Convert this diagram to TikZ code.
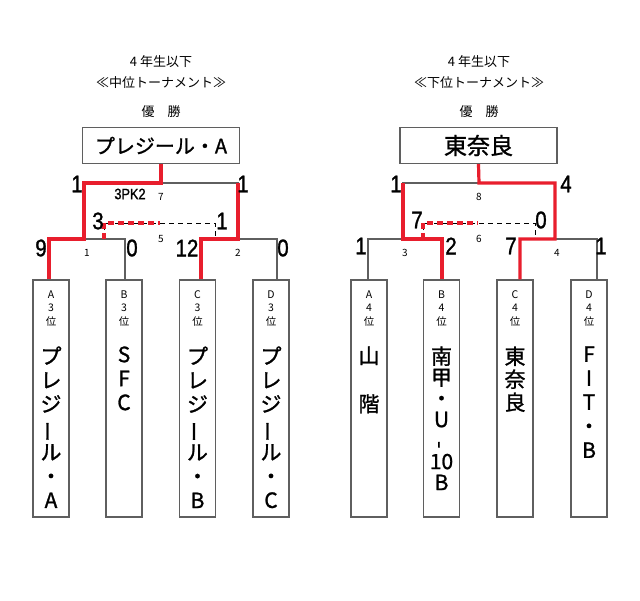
\documentclass[tikz,border=0pt]{standalone}
\usepackage{fontspec}
\setmainfont{Noto Sans CJK JP}
\newfontfamily\heavyjp{Noto Sans CJK JP}[FakeBold=1.2]
\newfontfamily\scorefont{Liberation Sans}[FakeStretch=0.85,FakeBold=1.2]
\usepackage{graphicx}
\definecolor{winred}{RGB}{232,30,45}
\definecolor{linegray}{RGB}{95,95,95}
\newcommand{\tatebar}{\rotatebox[origin=c]{90}{ー}}
\newcommand{\tatedash}{\rotatebox[origin=c]{90}{-}}

\begin{document}
\begin{tikzpicture}[x=1pt, y=-1pt,
    bline/.style={draw=linegray, line width=1.1pt},
    wline/.style={draw=winred, line width=3.2pt},
    bdash/.style={draw=black, line width=0.8pt, dash pattern=on 5pt off 4pt},
    wdash/.style={draw=winred, line width=3.6pt, dash pattern=on 6pt off 4pt},
    champbox/.style={draw=linegray, line width=1.1pt, minimum width=157pt, minimum height=36pt, inner sep=0pt, font=\heavyjp\fontsize{20}{20}\selectfont},
    teambox/.style={draw=linegray, line width=1.3pt, minimum width=36pt, minimum height=237pt, inner sep=0pt},
    ranktxt/.style={align=center, inner sep=0pt, font=\fontsize{10.5}{13.5}\selectfont},
    teamtxt/.style={align=center, inner sep=0pt, font=\heavyjp\fontsize{21}{24}\selectfont},
    headtxt/.style={inner sep=0pt, font=\fontsize{13}{13}\selectfont},
    pts/.style={inner sep=0pt, font=\scorefont\fontsize{24}{24}\selectfont},
    gamenum/.style={inner sep=0pt, font=\fontsize{10}{10}\selectfont}
  ]
  \path[fill=white] (0,0) rectangle (640,600);
  \useasboundingbox (0,0) rectangle (640,600);

  % middle tournament
  \node[headtxt] (hL1) at (161,62) {4 年生以下};
  \node[headtxt] (hL2) at (161,83) {≪中位トーナメント≫};
  \node[headtxt] (hL3) at (161,112) {優　勝};
  \node[champbox] (winL) at (161,145.5) {プレジール・A};

  \node[teambox] (LA) at (51,398.5) {};
  \node[teambox] (LB) at (124,398.5) {};
  \node[teambox] (LC) at (197.5,398.5) {};
  \node[teambox] (LD) at (271,398.5) {};
  \node[ranktxt, anchor=north] (LAr) at ([yshift=-11pt]LA.north) {A\\3\\位};
  \node[ranktxt, anchor=north] (LBr) at ([yshift=-11pt]LB.north) {B\\3\\位};
  \node[ranktxt, anchor=north] (LCr) at ([yshift=-11pt]LC.north) {C\\3\\位};
  \node[ranktxt, anchor=north] (LDr) at ([yshift=-11pt]LD.north) {D\\3\\位};
  \node[teamtxt, anchor=north] (LAn) at ([yshift=-20pt]LAr.south) {プ\\レ\\ジ\\\tatebar\\ル\\・\\A};
  \node[teamtxt, anchor=north] (LBn) at ([yshift=-20pt]LBr.south) {S\\F\\C};
  \node[teamtxt, anchor=north] (LCn) at ([yshift=-20pt]LCr.south) {プ\\レ\\ジ\\\tatebar\\ル\\・\\B};
  \node[teamtxt, anchor=north] (LDn) at ([yshift=-20pt]LDr.south) {プ\\レ\\ジ\\\tatebar\\ル\\・\\C};

  \coordinate (q1) at (84,239);
  \coordinate (q2) at (238,239);
  \coordinate (fL) at (161,183);
  \coordinate (t1) at (104,223);
  \coordinate (tL) at (160,223);
  \coordinate (t2) at (215,223);

  \draw[bline] ([xshift=-2pt]LA.north) |- (q1) -| ([xshift=1pt]LB.north);
  \draw[bline] ([xshift=3.5pt]LC.north) |- (q2) -| ([xshift=6pt]LD.north);
  \draw[bline] (q1) |- (fL) -| (q2);
  \draw[bdash] (t1 |- q1) -- (t1) -- (t2) -- (t2 |- q2);
  \draw[wdash] (t1 |- q1) -- (t1) -- (tL);
  \draw[wline] ([xshift=-2pt]LA.north) |- (q1) |- (fL) -- (winL.south);
  \draw[wline] ([xshift=3.5pt]LC.north) |- (q2) -- (q2 |- fL);

  \node[pts] (sL1) at (77,184) {1};
  \node[pts] (sL2) at (243,184) {1};
  \node[pts] (sL3) at (98,221) {3};
  \node[pts] (sL4) at (222,221) {1};
  \node[pts] (sL5) at (41,248) {9};
  \node[pts] (sL6) at (132,248) {0};
  \node[pts] (sL7) at (187,248) {12};
  \node[pts] (sL8) at (283,248) {0};
  \node[inner sep=0pt, font=\scorefont\fontsize{15}{15}\selectfont] (pk) at (130,194) {3PK2};
  \node[gamenum] (gL7) at (161,197) {7};
  \node[gamenum] (gL5) at (161,239) {5};
  \node[gamenum] (gL1) at (87,253) {1};
  \node[gamenum] (gL2) at (238,253) {2};

  % lower tournament
  \node[headtxt] (hR1) at (479,62) {4 年生以下};
  \node[headtxt] (hR2) at (479,83) {≪下位トーナメント≫};
  \node[headtxt] (hR3) at (479,112) {優　勝};
  \node[champbox, font=\heavyjp\fontsize{23}{23}\selectfont] (winR) at (478.5,145.5) {東奈良};

  \node[teambox] (RA) at (369,398.5) {};
  \node[teambox] (RB) at (441.5,398.5) {};
  \node[teambox] (RC) at (515,398.5) {};
  \node[teambox] (RD) at (589,398.5) {};
  \node[ranktxt, anchor=north] (RAr) at ([yshift=-11pt]RA.north) {A\\4\\位};
  \node[ranktxt, anchor=north] (RBr) at ([yshift=-11pt]RB.north) {B\\4\\位};
  \node[ranktxt, anchor=north] (RCr) at ([yshift=-11pt]RC.north) {C\\4\\位};
  \node[ranktxt, anchor=north] (RDr) at ([yshift=-11pt]RD.north) {D\\4\\位};
  \node[teamtxt, anchor=north] (RAn) at ([yshift=-20pt]RAr.south) {山\\[24pt]階};
  \node[teamtxt, anchor=north, font=\heavyjp\fontsize{21}{21}\selectfont] (RBn) at ([yshift=-20pt]RBr.south) {南\\甲\\・\\U\\\tatedash\\10\\B};
  \node[teamtxt, anchor=north, font=\heavyjp\fontsize{21}{23}\selectfont] (RCn) at ([yshift=-20pt]RCr.south) {東\\奈\\良};
  \node[teamtxt, anchor=north] (RDn) at ([yshift=-20pt]RDr.south) {F\\I\\T\\・\\B};

  \coordinate (q3) at (403,239);
  \coordinate (q4) at (555,239);
  \coordinate (fR) at (479,183);
  \coordinate (t3) at (423,223);
  \coordinate (tR) at (478,223);
  \coordinate (t4) at (535,223);

  \draw[bline] ([xshift=-1pt]RA.north) |- (q3) -| ([xshift=0.5pt]RB.north);
  \draw[bline] ([xshift=5pt]RC.north) |- (q4) -| ([xshift=8pt]RD.north);
  \draw[bline] (q3) |- (fR) -| (q4);
  \draw[bdash] (t3 |- q3) -- (t3) -- (t4) -- (t4 |- q4);
  \draw[wdash] (t3 |- q3) -- (t3) -- (tR);
  \draw[wline] ([xshift=0.5pt]RB.north) |- (q3) -- (q3 |- fR);
  \draw[wline] ([xshift=5pt]RC.north) |- (q4) |- (fR) -- (winR.south);

  \node[pts] (sR1) at (396,184) {1};
  \node[pts] (sR2) at (566,184) {4};
  \node[pts] (sR3) at (417,220) {7};
  \node[pts] (sR4) at (541,220) {0};
  \node[pts] (sR5) at (361,246) {1};
  \node[pts] (sR6) at (451,246) {2};
  \node[pts] (sR7) at (511,246) {7};
  \node[pts] (sR8) at (601,246) {1};
  \node[gamenum] (gR8) at (479,197) {8};
  \node[gamenum] (gR6) at (479,239) {6};
  \node[gamenum] (gR3) at (405,253) {3};
  \node[gamenum] (gR4) at (557,253) {4};
\end{tikzpicture}
\end{document}
